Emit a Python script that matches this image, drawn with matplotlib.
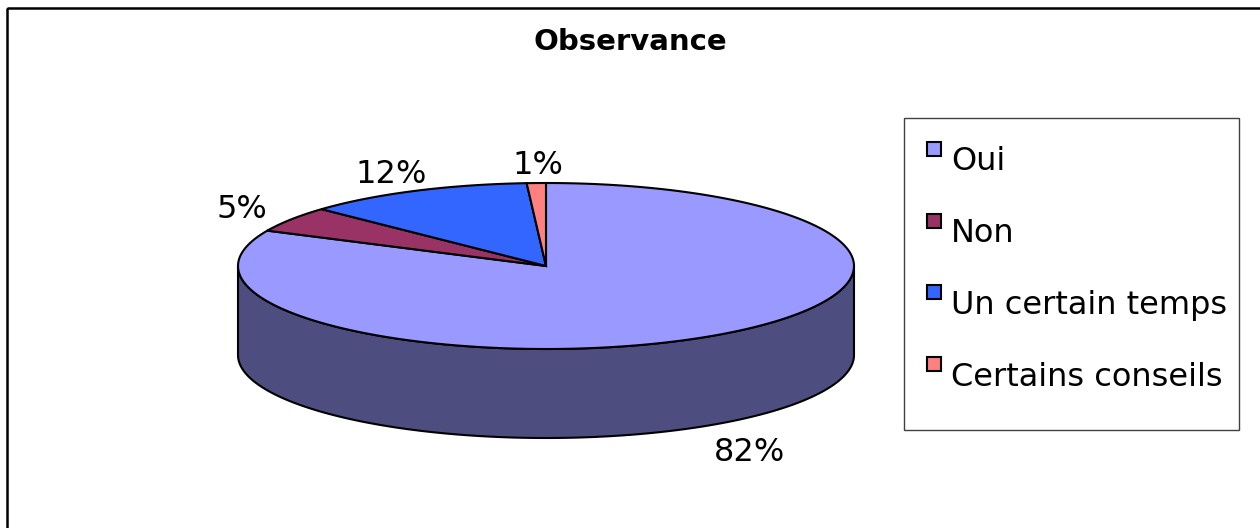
import numpy as np
import matplotlib
matplotlib.use("Agg")
import matplotlib.pyplot as plt
from matplotlib.patches import Polygon, Rectangle

# Data
labels = ['Oui', 'Non', 'Un certain temps', 'Certains conseils']
values = [82, 5, 12, 1]
pct_text = ['82%', '5%', '12%', '1%']
colors = ['#9999FF', '#993366', '#3366FF', '#FF8080']
side_colors = ['#4D4D80', '#4D1A33', '#1A3380', '#804040']

# Pie geometry (pixels)
cx, cy = 546, 266
rx, ry = 308, 83
depth = 89

fig = plt.figure(figsize=(12.6, 5.28), dpi=100)
ax = fig.add_axes([0, 0, 1, 1])
ax.set_xlim(0, 1260)
ax.set_ylim(528, 0)
ax.axis('off')

# outer frame (runs off the right and bottom)
ax.add_patch(Rectangle((7, 8), 1300, 600, fill=False, ec='black', lw=1.8))


def ellipse_pts(t1, t2, dy=0, n=200):
    t = np.radians(np.linspace(t1, t2, n))
    return np.column_stack([cx + rx * np.cos(t), cy - ry * np.sin(t) + dy])


total = float(sum(values))
cum = np.concatenate([[0], np.cumsum(values)]) / total
starts = 90 - cum[1:] * 360   # clockwise from 12 o'clock
ends = 90 - cum[:-1] * 360

# side wall: front half is angles -180..0
for i in range(len(values)):
    lo = max(starts[i], -180)
    hi = min(ends[i], 0)
    if hi > lo:
        top = ellipse_pts(lo, hi)
        bot = ellipse_pts(hi, lo, dy=depth)
        ax.add_patch(Polygon(np.vstack([top, bot]), closed=True,
                             fc=side_colors[i], ec='black', lw=1.5, zorder=2))

# top face
for i in range(len(values)):
    arc = ellipse_pts(starts[i], ends[i])
    pts = np.vstack([[cx, cy], arc])
    ax.add_patch(Polygon(pts, closed=True, fc=colors[i], ec='black',
                         lw=1.5, zorder=3))

# percentage labels
for i in range(len(values)):
    mid = np.radians((starts[i] + ends[i]) / 2)
    lx = cx + (rx + 65) * np.cos(mid)
    ly = cy - (ry + 18) * np.sin(mid)
    if np.sin(mid) < 0:
        ly += depth + 12
    ax.text(lx + 4, ly, pct_text[i], ha='center', va='center', fontsize=23,
            family='DejaVu Sans', zorder=4)

# title
ax.text(630, 42, 'Observance', ha='center', va='center', fontsize=21,
        fontweight='bold', family='DejaVu Sans')

# legend
ax.add_patch(Rectangle((904, 118), 335, 312, fill=False, ec='#404040', lw=1.0))
for i, lab in enumerate(labels):
    y0 = 142 + i * 71.7
    ax.add_patch(Rectangle((927, y0), 14, 14, fc=colors[i], ec='black', lw=1.5))
    ax.text(951, y0 + 20, lab, ha='left', va='center', fontsize=23,
            family='DejaVu Sans')

fig.savefig('out.png', dpi=100)
